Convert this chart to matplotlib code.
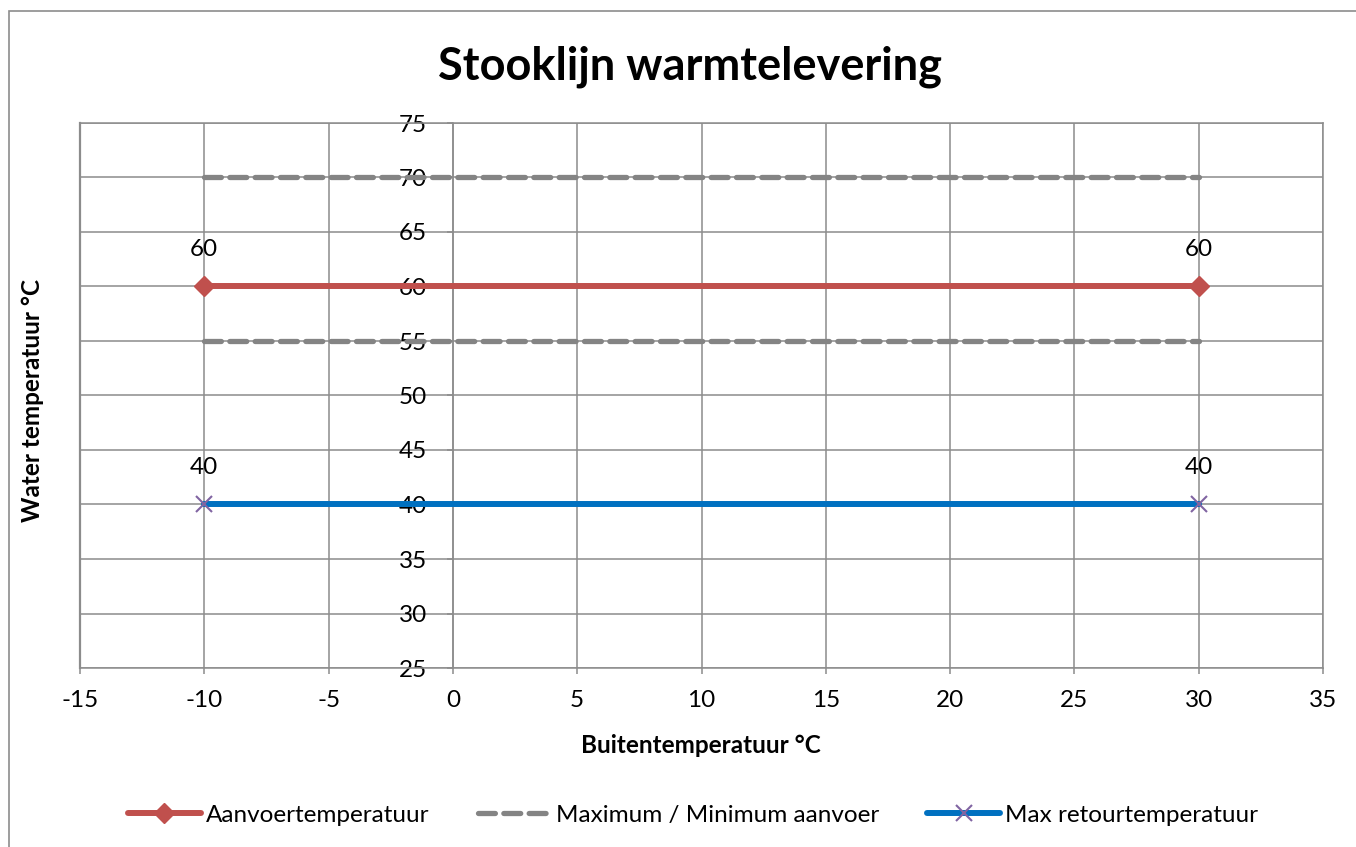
import matplotlib
matplotlib.use("Agg")
import matplotlib.pyplot as plt
from matplotlib.lines import Line2D
from matplotlib.patches import Rectangle

plt.rcParams['font.family'] = ['Lato', 'DejaVu Sans']
plt.rcParams['axes.unicode_minus'] = False

# Data
x_points = [-10, 30]
aanvoer = [60, 60]
max_aanvoer = [70, 70]
min_aanvoer = [55, 55]
retour = [40, 40]
x_ticks = list(range(-15, 40, 5))
y_ticks = list(range(25, 80, 5))

title = "Stooklijn warmtelevering"
xlabel = "Buitentemperatuur °C"
ylabel = "Water temperatuur °C"
labels = ["Aanvoertemperatuur", "Maximum / Minimum aanvoer", "Max retourtemperatuur"]

RED = "#C0504D"
GREY = "#848484"
BLUE = "#0070C0"
PURPLE = "#8064A2"
GRID = "#8C8C8C"

W, H = 1356, 847
fig = plt.figure(figsize=(W / 100, H / 100), dpi=100)

# outer chart border
fig.patches.append(Rectangle((9 / W, 0 - 0.01), 2, (H - 11) / H + 0.01,
                             transform=fig.transFigure, fill=False,
                             edgecolor="#8C8C8C", linewidth=1.2))

ax = fig.add_axes([80 / W, 1 - 668 / H, (1323 - 80) / W, (668 - 123) / H])
ax.set_xlim(-15, 35)
ax.set_ylim(25, 75)
ax.set_xticks(x_ticks)
ax.set_yticks(y_ticks)
ax.grid(True, color=GRID, linewidth=1.1, zorder=0)
ax.set_axisbelow(True)

for s in ['top', 'right', 'bottom']:
    ax.spines[s].set_color(GRID)
    ax.spines[s].set_linewidth(1.1)
ax.spines['left'].set_position(('data', 0))
ax.spines['left'].set_color(GRID)
ax.spines['left'].set_linewidth(1.1)
ax.axvline(-15, color=GRID, linewidth=1.6, zorder=1, clip_on=False)

ax.tick_params(axis='both', colors=GRID, labelcolor='black', labelsize=17.5,
               direction='out', length=4.5, width=1.1)
ax.tick_params(axis='y', pad=14)
ax.tick_params(axis='x', pad=11)

# Series
ax.plot(x_points, max_aanvoer, color=GREY, linewidth=3.8, linestyle=(0, (3.2, 1.6)),
        dash_capstyle='round', zorder=3)
ax.plot(x_points, min_aanvoer, color=GREY, linewidth=3.8, linestyle=(0, (3.2, 1.6)),
        dash_capstyle='round', zorder=3)
ax.plot(x_points, aanvoer, color=RED, linewidth=4.3, marker='D', markersize=10,
        markerfacecolor=RED, markeredgecolor=RED, solid_capstyle='round', zorder=4)
ax.plot(x_points, retour, color=BLUE, linewidth=4.3, solid_capstyle='round', zorder=4)
ax.plot(x_points, retour, linestyle='none', marker='x', markersize=12,
        markeredgecolor=PURPLE, markeredgewidth=1.5, zorder=5)

for xv, yv in zip(x_points, aanvoer):
    ax.annotate(f"{yv}", (xv, yv), xytext=(0, 27), textcoords='offset points',
                ha='center', va='center', fontsize=17.5, zorder=6)
for xv, yv in zip(x_points, retour):
    ax.annotate(f"{yv}", (xv, yv), xytext=(0, 27), textcoords='offset points',
                ha='center', va='center', fontsize=17.5, zorder=6)

for t in ax.get_yticklabels():
    t.set_zorder(6)

fig.text(690 / W, 1 - 67 / H, title, ha='center', va='center', fontsize=32.5,
         fontweight='bold')
fig.text(701 / W, 1 - 745 / H, xlabel, ha='center', va='center', fontsize=17.5,
         fontweight='bold')
fig.text(33 / W, 1 - 400 / H, ylabel, ha='center', va='center', fontsize=17.5,
         fontweight='bold', rotation=90)

handles = [
    Line2D([], [], color=RED, linewidth=4.3, marker='D', markersize=10,
           markerfacecolor=RED, markeredgecolor=RED, solid_capstyle='round'),
    Line2D([], [], color=GREY, linewidth=3.8, linestyle=(0, (3.2, 1.6)),
           dash_capstyle='round'),
    Line2D([], [], color=BLUE, linewidth=4.3, marker='x', markersize=12,
           markeredgecolor=PURPLE, markeredgewidth=1.5, solid_capstyle='round'),
]
fig.legend(handles, labels, loc='center', bbox_to_anchor=(693 / W, 1 - 815 / H),
           ncol=3, frameon=False, fontsize=17.5, handlelength=3.0,
           handletextpad=0.2, columnspacing=2.0)

fig.savefig("out.png", dpi=100)
